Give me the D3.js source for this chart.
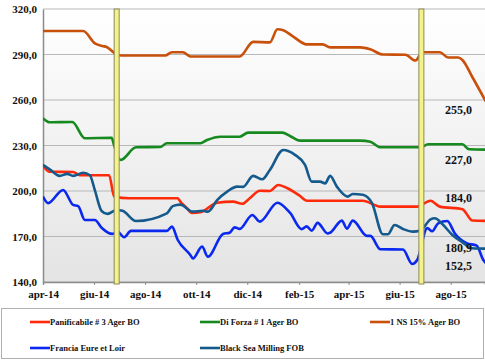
<!DOCTYPE html>
<html><head><meta charset="utf-8">
<script src="https://cdn.jsdelivr.net/npm/d3@7"></script>
<style>
html,body{margin:0;padding:0;background:#fff;}
svg text{font-family:"Liberation Serif","Times New Roman",serif;font-weight:bold;}
</style></head>
<body><svg id="c" width="485" height="360"></svg>
<script>
const yTicks = [140,170,200,230,260,290,320];
const xTickDates = ["2014-04-01","2014-06-01","2014-08-01","2014-10-01","2014-12-01","2015-02-01","2015-04-01","2015-06-01","2015-08-01"];
const markerDates = ["2014-06-28","2015-06-27"];
const seriesNames = ["Panificabile # 3 Ager BO","Di Forza # 1 Ager BO","1 NS 15% Ager BO","Francia Eure et Loir","Black Sea Milling FOB"];
const seriesColors = ["#FF2A0A","#168A1E","#C8500A","#0A28EE","#145A8C"];

const panificabile = [["2014-04-01",216.5],["2014-04-09",212.7],["2014-05-07",212.5],["2014-05-15",210.4],["2014-06-19",210.4],["2014-06-25",196.3],["2014-07-13",195.2],["2014-09-09",195.2],["2014-09-12",193],["2014-09-20",188.6],["2014-09-26",185.5],["2014-10-06",186],["2014-10-26",192.3],["2014-11-14",193],["2014-11-25",191.6],["2014-12-04",195.2],["2014-12-16",200.2],["2014-12-28",200],["2015-01-07",204],["2015-01-18",201.8],["2015-02-02",196.7],["2015-02-10",193.6],["2015-04-18",193.6],["2015-05-09",189.7],["2015-06-22",189.7],["2015-07-08",193.6],["2015-07-19",189.7],["2015-08-15",188],["2015-08-27",180.5],["2015-09-12",180.3]];
const diForza = [["2014-04-01",248],["2014-04-09",245.3],["2014-05-06",245.5],["2014-05-21",234.8],["2014-06-22",235],["2014-06-25",230],["2014-07-01",221],["2014-07-03",220.5],["2014-07-21",228.8],["2014-08-19",229],["2014-08-27",231.5],["2014-10-06",231.5],["2014-10-14",233.6],["2014-10-30",235.8],["2014-11-22",235.8],["2014-12-02",238.5],["2015-01-12",238.5],["2015-01-21",236.3],["2015-02-02",233.2],["2015-04-15",233.2],["2015-04-27",232.5],["2015-05-09",228.8],["2015-06-26",228.8],["2015-07-05",230.8],["2015-08-15",230.8],["2015-08-23",227.5],["2015-09-12",227.3]];
const ns15 = [["2014-04-01",305.5],["2014-05-19",305.5],["2014-06-02",297.4],["2014-06-11",295.6],["2014-06-16",295],["2014-06-28",290],["2014-07-04",289.3],["2014-08-25",289.3],["2014-09-02",291.5],["2014-09-15",291.5],["2014-09-24",288.7],["2014-11-22",288.7],["2014-12-08",298.3],["2014-12-28",298],["2015-01-06",306.6],["2015-01-13",306],["2015-01-25",301.8],["2015-02-10",296.7],["2015-03-01",296.7],["2015-03-10",294.7],["2015-04-15",294.7],["2015-04-27",293.4],["2015-05-12",290],["2015-06-08",289.8],["2015-06-20",286],["2015-06-28",291.5],["2015-07-19",291.5],["2015-07-29",288],["2015-08-10",288],["2015-08-15",286.4],["2015-08-27",275],["2015-09-12",259]];
const francia = [["2014-04-01",196.3],["2014-04-07",192],["2014-04-25",200.7],["2014-05-07",190.8],["2014-05-13",190],["2014-05-21",180.9],["2014-06-02",180.9],["2014-06-10",175.8],["2014-06-23",171.7],["2014-06-29",173.2],["2014-07-07",169.5],["2014-07-15",173.7],["2014-08-27",173.7],["2014-09-02",176.5],["2014-09-09",167.7],["2014-09-24",157.8],["2014-09-27",155.5],["2014-10-08",163.3],["2014-10-15",156.7],["2014-11-02",171.7],["2014-11-10",172.5],["2014-11-16",176],["2014-11-22",175],["2014-12-07",184.2],["2014-12-16",179.8],["2015-01-06",192.3],["2015-01-21",185.7],["2015-02-04",174.8],["2015-02-10",176.7],["2015-02-16",173.8],["2015-02-23",179],["2015-03-07",172],["2015-03-10",172.5],["2015-03-24",180.5],["2015-03-30",175.2],["2015-04-06",180.5],["2015-04-23",170.4],["2015-04-27",170.4],["2015-05-09",161.6],["2015-06-05",161.4],["2015-06-16",151.9],["2015-06-22",154.5],["2015-07-04",175.5],["2015-07-10",173.5],["2015-07-17",178.7],["2015-07-28",180.2],["2015-08-06",172],["2015-08-20",165.6],["2015-09-01",164],["2015-09-09",154.5],["2015-09-12",152.5]];
const blackSea = [["2014-04-01",217.2],["2014-04-09",214.3],["2014-04-21",210],["2014-04-30",211.3],["2014-05-07",210],["2014-05-19",212],["2014-05-27",210.4],["2014-06-02",200.4],["2014-06-10",186.8],["2014-06-17",184.9],["2014-06-28",187.5],["2014-07-05",187],["2014-07-21",180.2],["2014-08-27",185.3],["2014-09-03",190],["2014-09-12",191],["2014-09-27",186.4],["2014-10-09",187],["2014-10-15",186.4],["2014-10-26",194],["2014-11-07",199.6],["2014-11-19",202.9],["2014-11-26",202.7],["2014-12-08",210],["2014-12-19",207.7],["2014-12-28",213.9],["2015-01-13",227],["2015-01-27",223.8],["2015-02-08",217.2],["2015-02-16",206.2],["2015-02-26",206.2],["2015-03-04",205],["2015-03-10",210],["2015-03-18",202.9],["2015-03-31",196.3],["2015-04-06",198],["2015-04-18",197.5],["2015-04-29",192],["2015-05-12",171.5],["2015-05-18",171.5],["2015-05-26",177.6],["2015-06-05",175],["2015-06-17",173.2],["2015-06-26",174],["2015-07-08",181.3],["2015-07-13",182],["2015-07-22",178.2],["2015-08-03",171],["2015-08-14",166.6],["2015-08-27",162.3],["2015-09-12",162]];
const allSeries = [panificabile, diForza, ns15, francia, blackSea];

const lastLabels = ["255,0","227,0","184,0","180,9","152,5"];
const lastLabelValues = [255,227,184,180.9,152.5];

const parse = d3.timeParse("%Y-%m-%d");
const svg = d3.select("#c");
const L = 43, R = 485, T = 9, B = 282;

const x = d3.scaleTime().domain([parse("2014-04-01"), parse("2015-09-11")]).range([L, R]);
const y = d3.scaleLinear().domain([140, 320]).range([B, T]);

const defs = svg.append("defs");
const g = defs.append("linearGradient").attr("id","bg").attr("x1",0).attr("y1",0).attr("x2",0).attr("y2",1);
g.append("stop").attr("offset","0%").attr("stop-color","#ffffff");
g.append("stop").attr("offset","100%").attr("stop-color","#e4e4e4");
defs.append("clipPath").attr("id","clip").append("rect").attr("x",L).attr("y",T-5).attr("width",R-L).attr("height",B-T+10);

svg.append("rect").attr("x",L).attr("y",T).attr("width",R-L).attr("height",B-T).attr("fill","url(#bg)");

// grid
svg.append("g").selectAll("line").data(yTicks).join("line")
  .attr("x1",L).attr("x2",R).attr("y1",d=>y(d)).attr("y2",d=>y(d))
  .attr("stroke","#b8b8b8").attr("stroke-width",1);

// y axis
const yAxis = d3.axisLeft(y).tickValues(yTicks).tickSize(0).tickPadding(6).tickFormat(d=>d3.format(".1f")(d).replace(".",","));
const ya = svg.append("g").attr("transform",`translate(${L},0)`).call(yAxis);
ya.select(".domain").attr("stroke","#8c8c8c").attr("stroke-width",1.5);
ya.selectAll("text").attr("font-size",11).attr("fill","#111");

// x axis
const xAxis = d3.axisBottom(x).tickValues(xTickDates.map(parse)).tickSize(3).tickPadding(5)
  .tickFormat(d=>{const m=["gen","feb","mar","apr","mag","giu","lug","ago","set","ott","nov","dic"][d.getMonth()];return m+"-"+d3.timeFormat("%y")(d);});
const xa = svg.append("g").attr("transform",`translate(0,${B})`).call(xAxis);
xa.select(".domain").attr("stroke","#8c8c8c").attr("stroke-width",1.5);
xa.selectAll("line").attr("stroke","#8c8c8c");
xa.selectAll("text").attr("font-size",11).attr("fill","#111");

// lines
const line = d3.line().x(d=>x(parse(d[0]))).y(d=>y(d[1])).curve(d3.curveMonotoneX);
const lg = svg.append("g").attr("clip-path","url(#clip)");
allSeries.forEach((s,i)=>{
  lg.append("path").datum(s).attr("d",line).attr("fill","none")
    .attr("stroke",seriesColors[i]).attr("stroke-width",2.6).attr("stroke-linejoin","round");
});

// markers
svg.append("g").selectAll("rect").data(markerDates).join("rect")
  .attr("x",d=>x(parse(d))-2.5).attr("y",T).attr("width",5).attr("height",B-T+2)
  .attr("fill","#f6f28a").attr("stroke","#8a8a5a").attr("stroke-width",1);

// end labels
const labelDy = [6,14,-13,32,7];
svg.append("g").selectAll("text").data(lastLabels).join("text")
  .attr("x",R-40).attr("y",(d,i)=>y(lastLabelValues[i])+labelDy[i])
  .attr("font-size",12).attr("fill","#111").text(d=>d);

// legend
svg.append("rect").attr("x",1.5).attr("y",308.5).attr("width",482).attr("height",50)
  .attr("fill","#fff").attr("stroke","#b0b0b0").attr("stroke-width",1);
const legPos = [[30,322],[200,322],[370,322],[30,348],[200,348]];
const leg = svg.append("g").selectAll("g").data(seriesNames).join("g")
  .attr("transform",(d,i)=>`translate(${legPos[i][0]},${legPos[i][1]})`);
leg.append("line").attr("x1",0).attr("x2",20).attr("y1",0).attr("y2",0)
  .attr("stroke",(d,i)=>seriesColors[i]).attr("stroke-width",2.6);
leg.append("text").attr("x",20).attr("y",3).attr("font-size",8.5).attr("fill","#111").text(d=>d);
</script></body></html>
